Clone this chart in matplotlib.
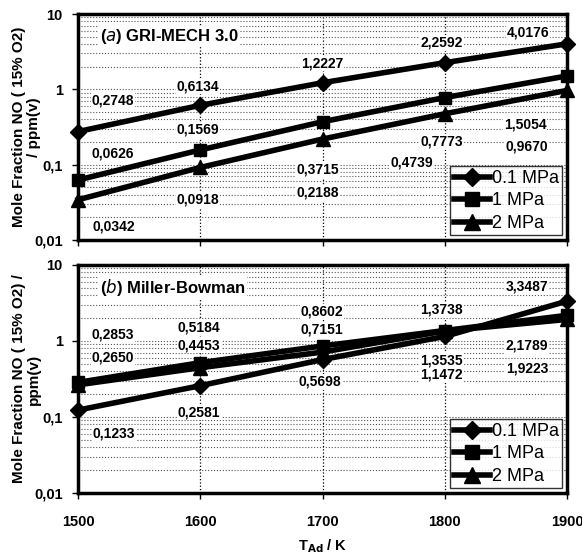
import matplotlib
matplotlib.use("Agg")
import matplotlib.pyplot as plt
from matplotlib.ticker import LogLocator, FixedLocator, NullFormatter
import numpy as np

plt.rcParams['font.family'] = ['Liberation Sans', 'DejaVu Sans']

T = [1500, 1600, 1700, 1800, 1900]
series = ["0.1 MPa", "1 MPa", "2 MPa"]

# panel (a) GRI-MECH 3.0
gri_01 = [0.2748, 0.6134, 1.2227, 2.2592, 4.0176]
gri_1 = [0.0626, 0.1569, 0.3715, 0.7773, 1.5054]
gri_2 = [0.0342, 0.0918, 0.2188, 0.4739, 0.9670]

# panel (b) Miller-Bowman
mb_01 = [0.1233, 0.2581, 0.5698, 1.1472, 3.3487]
mb_1 = [0.2853, 0.5184, 0.8602, 1.3738, 2.1789]
mb_2 = [0.2650, 0.4453, 0.7151, 1.3535, 1.9223]

# label spots (axes fraction) for the value annotations
pos_a = [
    [(0.072, 0.619), (0.245, 0.681), (0.499, 0.783), (0.744, 0.872), (0.920, 0.920)],
    [(0.072, 0.381), (0.245, 0.487), (0.491, 0.310), (0.744, 0.434), (0.914, 0.513)],
    [(0.074, 0.058), (0.245, 0.177), (0.491, 0.208), (0.683, 0.345), (0.918, 0.412)],
]
pos_b = [
    [(0.074, 0.263), (0.247, 0.355), (0.495, 0.487), (0.744, 0.518), (0.918, 0.904)],
    [(0.072, 0.693), (0.247, 0.728), (0.499, 0.794), (0.744, 0.803), (0.918, 0.645)],
    [(0.072, 0.596), (0.247, 0.649), (0.499, 0.715), (0.744, 0.583), (0.918, 0.548)],
]

markers = ["D", "s", "^"]
msizes = [8, 9, 10]

fig = plt.figure(figsize=(5.82, 5.56), dpi=100)
W, H = 582, 556
ax_a = fig.add_axes([78 / W, 1 - 240 / H, 489 / W, 226 / H])
ax_b = fig.add_axes([78 / W, 1 - 493 / H, 489 / W, 228 / H])


def fmt(v):
    return ("%.4f" % v).replace(".", ",")


def panel(ax, data, pos, title, ylabel, show_x):
    for vals, m, ms, name, pp in zip(data, markers, msizes, series, pos):
        ax.plot(T, vals, color="black", lw=4, marker=m, ms=ms, label=name,
                clip_on=False, zorder=3)
        for v, (px, py) in zip(vals, pp):
            ax.text(px, py, fmt(v), transform=ax.transAxes, ha="center",
                    va="center", fontsize=10, fontweight="bold",
                    bbox=dict(facecolor="white", edgecolor="none", pad=0.5),
                    zorder=4)
    ax.set_yscale("log")
    ax.set_ylim(0.01, 10)
    ax.set_xlim(1500, 1900)
    ax.set_xticks(T)
    ax.yaxis.set_major_locator(FixedLocator([0.01, 0.1, 1, 10]))
    ax.yaxis.set_minor_locator(LogLocator(base=10, subs=np.arange(2, 10)))
    ax.yaxis.set_minor_formatter(NullFormatter())
    ax.set_yticklabels(["0,01", "0,1", "1", "10"], fontsize=10.5,
                       fontweight="bold")
    ax.grid(True, which="major", axis="x", color="black", ls=":", lw=0.9)
    ax.grid(True, which="both", axis="y", color="#555555", ls=":", lw=0.8)
    ax.tick_params(axis="y", which="minor", length=0)
    ax.tick_params(axis="both", which="major", direction="out", length=4,
                   width=1)
    ax.tick_params(axis="y", which="major", pad=7)
    if show_x:
        ax.set_xticklabels([str(t) for t in T], fontsize=10.5,
                           fontweight="bold")
        ax.tick_params(axis="x", pad=12)
    else:
        ax.set_xticklabels([])
    for s in ax.spines.values():
        s.set_linewidth(2.5)
    ax.text(0.045, 0.9, title, transform=ax.transAxes, fontsize=12,
            fontweight="bold", ha="left", va="center",
            bbox=dict(facecolor="white", edgecolor="none", pad=1))
    ax.set_ylabel(ylabel, fontsize=11, fontweight="bold", linespacing=1.05)
    ax.yaxis.set_label_coords(-0.076, 0.5)
    leg = ax.legend(loc="lower right", fontsize=13, frameon=True,
                    fancybox=False, edgecolor="black", handlelength=2.0,
                    handletextpad=0.1, borderpad=0.2, labelspacing=0.3,
                    borderaxespad=0.25, markerscale=1.1)
    leg.get_frame().set_linewidth(1.0)
    leg.set_zorder(5)


panel(ax_a, [gri_01, gri_1, gri_2], pos_a, r"($\it{a}$) GRI-MECH 3.0",
      "Mole Fraction NO ( 15% O2)\n/ ppm(v)", False)
panel(ax_b, [mb_01, mb_1, mb_2], pos_b, r"($\it{b}$) Miller-Bowman",
      "Mole Fraction NO ( 15% O2) /\nppm(v)", True)
ax_b.set_xlabel(r"T$_{\mathbf{Ad}}$ / K", fontsize=10.5, fontweight="bold",
                labelpad=6)

fig.savefig("out.png", dpi=100)
